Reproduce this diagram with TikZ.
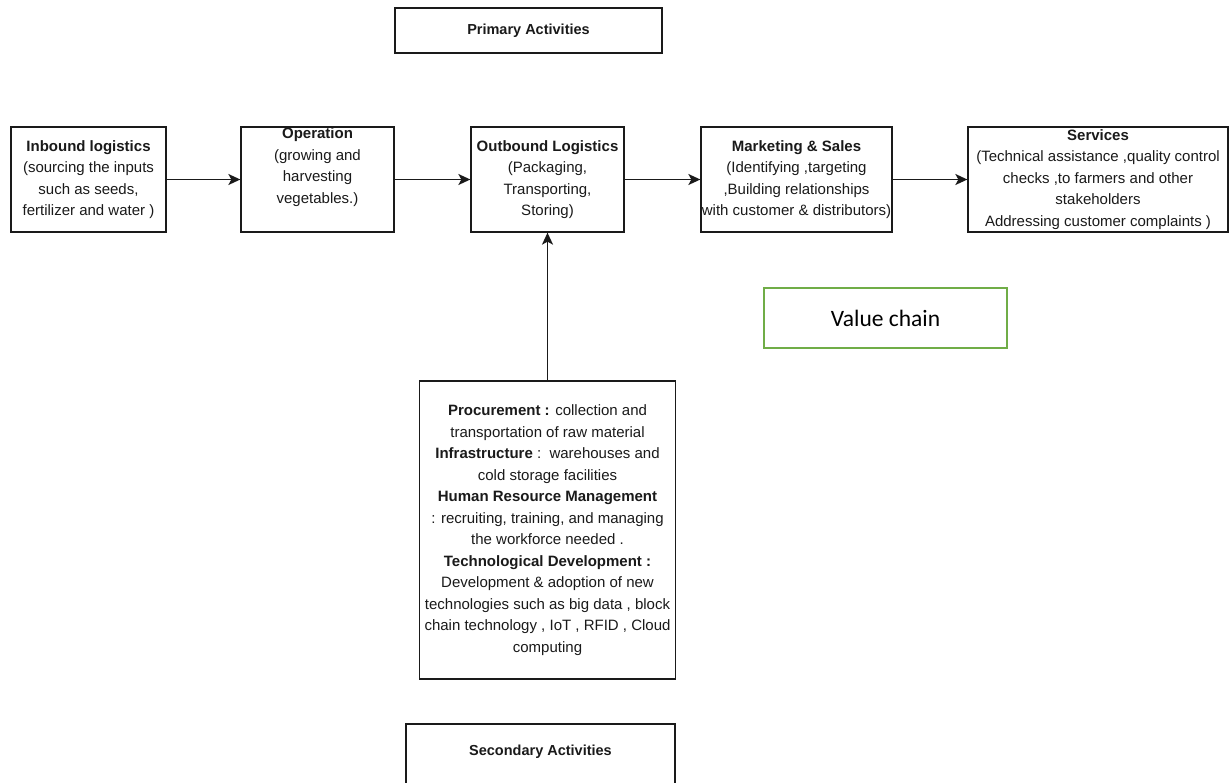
\documentclass[tikz,border=0pt]{standalone}
\usepackage{fontspec}
\setmainfont{Liberation Sans}
\newfontfamily\calfont{Carlito}
\usetikzlibrary{arrows.meta}
\definecolor{vcgreen}{HTML}{70AD47}
\definecolor{ink}{HTML}{1A1A1A}
\begin{document}
\begin{tikzpicture}[x=1pt,y=-1pt,
  box/.style={draw=ink, line width=1.3pt, rectangle, inner sep=0pt, align=center, text=ink,
    font=\fontsize{15}{21.5}\selectfont},
  lbl/.style={inner sep=0pt, align=center, text=ink, font=\fontsize{15}{21.5}\selectfont},
  arr/.style={draw=ink, line width=1.6pt, -{Stealth[length=12pt,width=11pt,inset=3pt]}}]
\clip (0,0) rectangle (1230,782);
\fill[white] (0,0) rectangle (1230,782);

\node[box, minimum width=267pt, minimum height=45pt, font=\fontsize{14.5}{20}\selectfont] (prim) at (528.5,30.5)
  {\textbf{Primary Activities}};

\node[box, minimum width=155pt, minimum height=105pt] (inb) at (88.5,179.5)
  {\textbf{Inbound logistics}\\(sourcing the inputs\\such as seeds,\\fertilizer and water )};
\node[box, minimum width=153pt, minimum height=105pt] (op) at (317.5,179.5) {};
\node[lbl] (optext) at (317.5,167)
  {\textbf{Operation}\\(growing and\\harvesting\\vegetables.)};
\node[box, minimum width=153pt, minimum height=105pt] (out) at (547.5,179.5)
  {\textbf{Outbound Logistics}\\(Packaging,\\Transporting,\\Storing)};
\node[box, minimum width=191pt, minimum height=105pt] (mkt) at (796.5,179.5)
  {\textbf{Marketing \& Sales}\\(Identifying ,targeting\\,Building relationships\\with customer \& distributors)};
\node[box, minimum width=260pt, minimum height=105pt] (srv) at (1098,179.5)
  {\textbf{Services}\\(Technical assistance ,quality control\\checks ,to farmers and other\\stakeholders\\Addressing customer complaints )};

\node[draw=vcgreen, line width=2pt, minimum width=243pt, minimum height=60pt, inner sep=0pt,
  font=\calfont\fontsize{23.5}{28}\selectfont] (vc) at (885.5,318) {Value chain};

\node[box, minimum width=256pt, minimum height=298pt] (proc) at (547.5,530)
  {\textbf{Procurement :} collection and\\transportation of raw material\\
   \textbf{Infrastructure} :\ \ warehouses and\\cold storage facilities\\
   \textbf{Human Resource Management}\\: recruiting, training, and managing\\the workforce needed .\\
   \textbf{Technological Development :}\\Development \& adoption of new\\technologies such as big data , block\\chain technology , IoT , RFID , Cloud\\computing};

\node[box, minimum width=269pt, minimum height=90pt] (sec) at (540.5,769) {};
\node[lbl, font=\fontsize{14.5}{20}\selectfont] (sectext) at (540.5,752) {\textbf{Secondary Activities}};

\draw[arr] (inb.east) -- (op.west);
\draw[arr] (op.east) -- (out.west);
\draw[arr] (out.east) -- (mkt.west);
\draw[arr] (mkt.east) -- (srv.west);
\draw[arr] (proc.north) -- (out.south);
\end{tikzpicture}
\end{document}
